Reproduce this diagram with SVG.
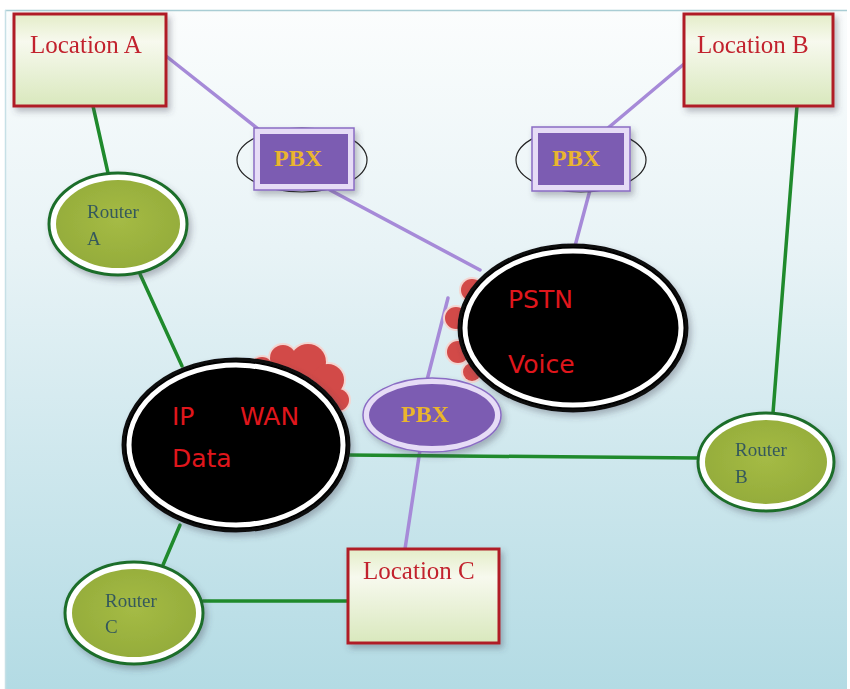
<svg xmlns="http://www.w3.org/2000/svg" width="850" height="689" viewBox="0 0 850 689">
  <defs>
    <linearGradient id="bg" x1="0" y1="0" x2="0" y2="1">
      <stop offset="0" stop-color="#fbfdfd"/>
      <stop offset="0.35" stop-color="#e8f3f6"/>
      <stop offset="1" stop-color="#b3dbe4"/>
    </linearGradient>
    <linearGradient id="locFill" x1="0" y1="0" x2="0" y2="1">
      <stop offset="0" stop-color="#e4edc8"/>
      <stop offset="0.3" stop-color="#f7f9ee"/>
      <stop offset="1" stop-color="#d9e8bd"/>
    </linearGradient>
    <radialGradient id="routerFill" cx="0.5" cy="0.45" r="0.6">
      <stop offset="0" stop-color="#a5bb45"/>
      <stop offset="1" stop-color="#93ab3a"/>
    </radialGradient>
    <filter id="shadow" x="-20%" y="-20%" width="150%" height="150%">
      <feDropShadow dx="3" dy="4" stdDeviation="3" flood-color="#445" flood-opacity="0.35"/>
    </filter>
    <style>
      .loc-box { fill: url(#locFill); stroke: #b01e28; stroke-width: 3; }
      .loc-text { font-family: "Liberation Serif", serif; font-size: 25px; fill: #c2232d; }
      .router-outer { fill: #ffffff; stroke: #1e6e2a; stroke-width: 3; }
      .router-inner { fill: url(#routerFill); }
      .router-text { font-family: "Liberation Serif", serif; font-size: 19px; fill: #35595c; }
      .pbx-halo { fill: none; stroke: #222; stroke-width: 1.2; }
      .pbx-frame { fill: #e6dcf6; stroke: #8a6cc4; stroke-width: 1.5; }
      .pbx-fill { fill: #7b5cb2; }
      .pbx-text { font-family: "Liberation Serif", serif; font-weight: bold; font-size: 24px; fill: #eab52e; text-anchor: middle; }
      .bump-edge { fill: #f3d6d2; }
      .bump-body { fill: #d24a48; }
      .cloud-ring { fill: #000; stroke: #111; stroke-width: 3; }
      .cloud-core { fill: #000; stroke: #ffffff; stroke-width: 5; }
      .cloud-text { font-family: "DejaVu Sans", sans-serif; font-size: 25px; fill: #e0161c; }
      .link-green { stroke: #1f8a2c; stroke-width: 3.5; fill: none; stroke-linecap: round; }
      .link-purple { stroke: #a68ad8; stroke-width: 3.5; fill: none; stroke-linecap: round; }
    </style>
  </defs>

  <!-- page background panel -->
  <rect x="0" y="0" width="850" height="689" fill="#ffffff"/>
  <rect x="5" y="10" width="842" height="679" fill="url(#bg)"/>
  <line x1="5" y1="10.5" x2="847" y2="10.5" stroke="#a9cdd4" stroke-width="1.5"/>
  <line x1="5.5" y1="10" x2="5.5" y2="689" stroke="#c6e0e6" stroke-width="1.5"/>

  <!-- connectors -->
  <g id="connectors">
    <line class="link-purple" x1="166" y1="56" x2="262" y2="132"/>
    <line class="link-purple" x1="330" y1="190" x2="480" y2="270"/>
    <line class="link-purple" x1="684" y1="64" x2="608" y2="128"/>
    <line class="link-purple" x1="590" y1="190" x2="575" y2="246"/>
    <line class="link-purple" x1="448" y1="298" x2="426" y2="384"/>
    <line class="link-purple" x1="420" y1="450" x2="405" y2="549"/>
    <line class="link-green" x1="93" y1="106" x2="108" y2="173"/>
    <line class="link-green" x1="140" y1="274" x2="182" y2="366"/>
    <line class="link-green" x1="348" y1="455" x2="698" y2="458"/>
    <line class="link-green" x1="797" y1="106" x2="773" y2="413"/>
    <line class="link-green" x1="180" y1="525" x2="163" y2="565"/>
    <line class="link-green" x1="203" y1="601" x2="348" y2="601"/>
  </g>

  <!-- Location A -->
  <g id="location-a" filter="url(#shadow)">
    <rect class="loc-box" x="14" y="14" width="152" height="92"/>
    <text class="loc-text" x="30" y="53">Location A</text>
  </g>

  <!-- Location B -->
  <g id="location-b" filter="url(#shadow)">
    <rect class="loc-box" x="684" y="14" width="149" height="92"/>
    <text class="loc-text" x="697" y="53">Location B</text>
  </g>

  <!-- Location C -->
  <g id="location-c" filter="url(#shadow)">
    <rect class="loc-box" x="348" y="549" width="151" height="94"/>
    <text class="loc-text" x="363" y="579">Location C</text>
  </g>

  <!-- Router A -->
  <g id="router-a" filter="url(#shadow)">
    <ellipse class="router-outer" cx="118" cy="224" rx="69" ry="51"/>
    <ellipse class="router-inner" cx="118" cy="224" rx="62" ry="44"/>
    <text class="router-text" x="87" y="218">Router</text>
    <text class="router-text" x="87" y="245">A</text>
  </g>

  <!-- Router B -->
  <g id="router-b" filter="url(#shadow)">
    <ellipse class="router-outer" cx="766" cy="462" rx="68" ry="49"/>
    <ellipse class="router-inner" cx="766" cy="462" rx="61" ry="42"/>
    <text class="router-text" x="735" y="456">Router</text>
    <text class="router-text" x="735" y="483">B</text>
  </g>

  <!-- Router C -->
  <g id="router-c" filter="url(#shadow)">
    <ellipse class="router-outer" cx="134" cy="613" rx="69" ry="51"/>
    <ellipse class="router-inner" cx="134" cy="613" rx="62" ry="44"/>
    <text class="router-text" x="105" y="607">Router</text>
    <text class="router-text" x="105" y="633">C</text>
  </g>

  <!-- PBX (upper left) -->
  <g id="pbx-left">
    <ellipse class="pbx-halo" cx="302" cy="160" rx="65" ry="32"/>
    <g filter="url(#shadow)">
      <rect class="pbx-frame" x="254" y="128" width="100" height="62"/>
      <rect class="pbx-fill" x="260" y="134" width="88" height="50"/>
    </g>
    <text class="pbx-text" x="298" y="166">PBX</text>
  </g>

  <!-- PBX (upper right) -->
  <g id="pbx-right">
    <ellipse class="pbx-halo" cx="581" cy="160" rx="65" ry="32"/>
    <g filter="url(#shadow)">
      <rect class="pbx-frame" x="532" y="127" width="98" height="64"/>
      <rect class="pbx-fill" x="538" y="133" width="86" height="52"/>
    </g>
    <text class="pbx-text" x="576" y="166">PBX</text>
  </g>

  <!-- IP WAN data cloud -->
  <g id="ip-wan">
    <g class="bump-edge">
      <circle cx="262" cy="368" r="13"/>
      <circle cx="283" cy="358" r="15"/>
      <circle cx="308" cy="362" r="20"/>
      <circle cx="328" cy="380" r="18"/>
      <circle cx="338" cy="400" r="13"/>
    </g>
    <g class="bump-body">
      <circle cx="262" cy="368" r="11"/>
      <circle cx="283" cy="358" r="13"/>
      <circle cx="308" cy="362" r="18"/>
      <circle cx="328" cy="380" r="16"/>
      <circle cx="338" cy="400" r="11"/>
    </g>
    <g filter="url(#shadow)">
      <ellipse class="cloud-ring" cx="236" cy="445" rx="113" ry="86"/>
      <ellipse class="cloud-core" cx="236" cy="445" rx="107" ry="80"/>
    </g>
    <text class="cloud-text" x="172" y="425">IP</text>
    <text class="cloud-text" x="240" y="425">WAN</text>
    <text class="cloud-text" x="172" y="467">Data</text>
  </g>

  <!-- PSTN voice cloud -->
  <g id="pstn">
    <g class="bump-edge">
      <circle cx="472" cy="290" r="13"/>
      <circle cx="456" cy="318" r="13"/>
      <circle cx="458" cy="352" r="13"/>
      <circle cx="472" cy="372" r="11"/>
    </g>
    <g class="bump-body">
      <circle cx="472" cy="290" r="11"/>
      <circle cx="456" cy="318" r="11"/>
      <circle cx="458" cy="352" r="11"/>
      <circle cx="472" cy="372" r="9"/>
    </g>
    <g filter="url(#shadow)">
      <ellipse class="cloud-ring" cx="573" cy="328" rx="114" ry="83"/>
      <ellipse class="cloud-core" cx="573" cy="328" rx="108" ry="77"/>
    </g>
    <text class="cloud-text" x="508" y="308">PSTN</text>
    <text class="cloud-text" x="508" y="373">Voice</text>
  </g>

  <!-- PBX (middle) -->
  <g id="pbx-middle" filter="url(#shadow)">
    <ellipse cx="432" cy="415" rx="69" ry="37" fill="#e6dcf6" stroke="#8a6cc4" stroke-width="1.5"/>
    <ellipse class="pbx-fill" cx="432" cy="415" rx="63" ry="31"/>
    <text class="pbx-text" x="425" y="422">PBX</text>
  </g>
</svg>
